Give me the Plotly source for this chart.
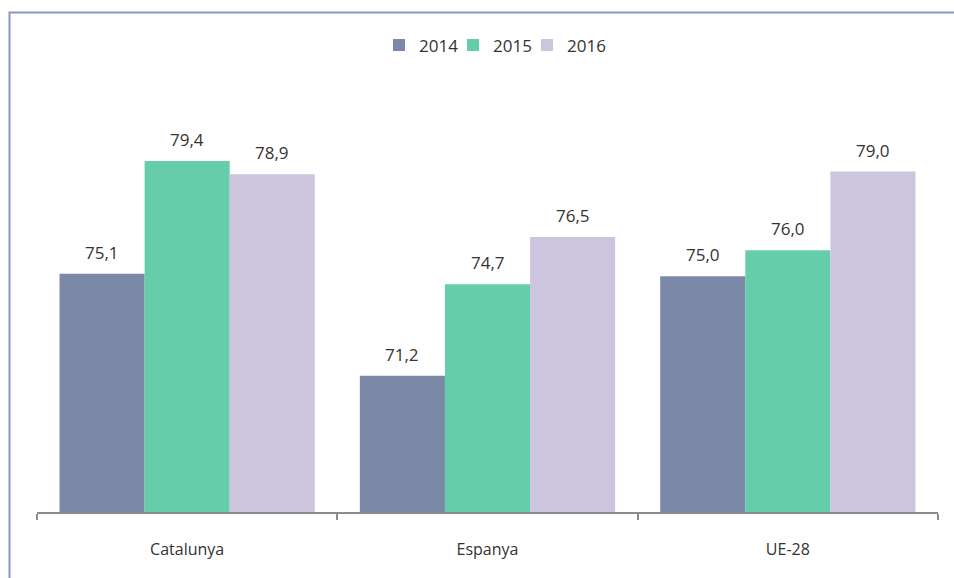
import plotly.graph_objects as go

categories = ["Catalunya", "Espanya", "UE-28"]
years = ["2014", "2015", "2016"]
values_2014 = [75.1, 71.2, 75.0]
values_2015 = [79.4, 74.7, 76.0]
values_2016 = [78.9, 76.5, 79.0]
series = [values_2014, values_2015, values_2016]
colors = ["#7b88a8", "#66cdaa", "#cdc4de"]

W, H = 954, 578
L, R, T, B = 37, 16, 92.5, 66
pw = W - L - R
ph = H - T - B
BARGAP = 0.15
bw = (1 - BARGAP) / len(series)

fig = go.Figure()
for j, (yr, vals, col) in enumerate(zip(years, series, colors)):
    extra = {"legendwidth": 29} if j < len(series) - 1 else {}
    fig.add_trace(go.Bar(
        x=categories, y=vals, name=yr, marker=dict(color=col, line=dict(width=0)),
        **extra,
    ))
    for i, v in enumerate(vals):
        fig.add_annotation(
            x=i + (j - (len(series) - 1) / 2) * bw, y=v, xref="x", yref="y",
            text=f"{v:.1f}".replace(".", ","), showarrow=False,
            yanchor="bottom", yshift=8,
            font=dict(size=17, color="#333333"),
        )

def px_x(p):
    return (p - L) / pw

def px_y(p):
    return (H - B - p) / ph

fig.add_shape(type="path", xref="paper", yref="paper",
              path=f"M {px_x(9.5)} {px_y(600)} L {px_x(9.5)} {px_y(12)} L {px_x(960)} {px_y(12)}",
              line=dict(color="#8a98bd", width=2))

fig.update_layout(
    width=W, height=H,
    margin=dict(l=L, r=R, t=T, b=B),
    paper_bgcolor="white", plot_bgcolor="white",
    barmode="group", bargap=BARGAP, bargroupgap=0,
    separators=",.",
    font=dict(family="Open Sans", size=16, color="#333333"),
    showlegend=True,
    legend=dict(orientation="h", x=px_x(495), xanchor="center", y=px_y(45), yanchor="middle",
                font=dict(size=17, color="#333333"), itemwidth=30, traceorder="normal"),
    xaxis=dict(showline=True, linecolor="#8c8c8c", linewidth=2, ticks="outside",
               tickson="boundaries", ticklen=6, tickcolor="#8c8c8c", tickwidth=2,
               showgrid=False, ticklabelstandoff=22, tickfont=dict(size=16, color="#333333")),
    yaxis=dict(range=[66, 82], visible=False, showgrid=False),
)

fig.write_html("out.html", config={"displayModeBar": False},
               post_script="document.body.style.margin='0';")
